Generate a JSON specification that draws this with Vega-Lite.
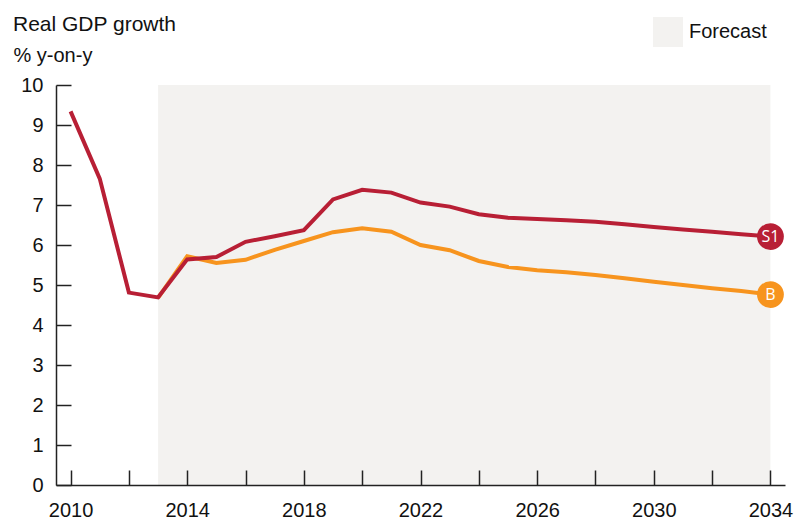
{
  "$schema": "https://vega.github.io/schema/vega-lite/v6.json",
  "width": 729,
  "height": 400,
  "autosize": {"type": "none"},
  "padding": {"left": 56, "top": 85, "right": 12, "bottom": 35},
  "background": "white",
  "config": {
    "view": {"stroke": null},
    "font": "Liberation Sans",
    "axis": {
      "domainColor": "#222222",
      "domainWidth": 1.5,
      "tickColor": "#222222",
      "tickWidth": 1.5,
      "tickSize": -15,
      "labelFont": "Liberation Sans",
      "labelFontSize": 20,
      "labelColor": "#111111",
      "labelOverlap": false,
      "grid": false,
      "zindex": 1
    }
  },
  "title": {
    "text": "Real GDP growth",
    "anchor": "start",
    "frame": "group",
    "dx": -43,
    "offset": -35,
    "baseline": "alphabetic",
    "fontSize": 21,
    "fontWeight": "normal",
    "color": "#111111"
  },
  "datasets": {
    "forecast": [{"start": 2013, "end": 2034, "label": "Forecast"}],
    "series": [
      {"year": 2013, "value": 4.68, "scenario": "B"},
      {"year": 2014, "value": 5.72, "scenario": "B"},
      {"year": 2015, "value": 5.55, "scenario": "B"},
      {"year": 2016, "value": 5.63, "scenario": "B"},
      {"year": 2017, "value": 5.88, "scenario": "B"},
      {"year": 2018, "value": 6.1, "scenario": "B"},
      {"year": 2019, "value": 6.32, "scenario": "B"},
      {"year": 2020, "value": 6.42, "scenario": "B"},
      {"year": 2021, "value": 6.33, "scenario": "B"},
      {"year": 2022, "value": 6.0, "scenario": "B"},
      {"year": 2023, "value": 5.87, "scenario": "B"},
      {"year": 2024, "value": 5.6, "scenario": "B"},
      {"year": 2025, "value": 5.45, "scenario": "B"},
      {"year": 2026, "value": 5.37, "scenario": "B"},
      {"year": 2027, "value": 5.32, "scenario": "B"},
      {"year": 2028, "value": 5.25, "scenario": "B"},
      {"year": 2029, "value": 5.17, "scenario": "B"},
      {"year": 2030, "value": 5.08, "scenario": "B"},
      {"year": 2031, "value": 5.0, "scenario": "B"},
      {"year": 2032, "value": 4.92, "scenario": "B"},
      {"year": 2033, "value": 4.85, "scenario": "B"},
      {"year": 2034, "value": 4.76, "scenario": "B"},
      {"year": 2010, "value": 9.34, "scenario": "S1"},
      {"year": 2011, "value": 7.66, "scenario": "S1"},
      {"year": 2012, "value": 4.81, "scenario": "S1"},
      {"year": 2013, "value": 4.69, "scenario": "S1"},
      {"year": 2014, "value": 5.64, "scenario": "S1"},
      {"year": 2015, "value": 5.7, "scenario": "S1"},
      {"year": 2016, "value": 6.08, "scenario": "S1"},
      {"year": 2017, "value": 6.22, "scenario": "S1"},
      {"year": 2018, "value": 6.37, "scenario": "S1"},
      {"year": 2019, "value": 7.14, "scenario": "S1"},
      {"year": 2020, "value": 7.38, "scenario": "S1"},
      {"year": 2021, "value": 7.31, "scenario": "S1"},
      {"year": 2022, "value": 7.06, "scenario": "S1"},
      {"year": 2023, "value": 6.96, "scenario": "S1"},
      {"year": 2024, "value": 6.77, "scenario": "S1"},
      {"year": 2025, "value": 6.68, "scenario": "S1"},
      {"year": 2026, "value": 6.65, "scenario": "S1"},
      {"year": 2027, "value": 6.62, "scenario": "S1"},
      {"year": 2028, "value": 6.58, "scenario": "S1"},
      {"year": 2029, "value": 6.52, "scenario": "S1"},
      {"year": 2030, "value": 6.45, "scenario": "S1"},
      {"year": 2031, "value": 6.39, "scenario": "S1"},
      {"year": 2032, "value": 6.33, "scenario": "S1"},
      {"year": 2033, "value": 6.27, "scenario": "S1"},
      {"year": 2034, "value": 6.21, "scenario": "S1"}
    ]
  },
  "layer": [
    {
      "data": {"name": "forecast"},
      "mark": {"type": "rect", "fillOpacity": 0.1},
      "encoding": {
        "x": {
          "field": "start",
          "type": "quantitative",
          "title": null,
          "scale": {"domain": [2009.5, 2034.5], "nice": false, "zero": false},
          "axis": {
            "tickCount": 13,
            "format": "d",
            "labelExpr": "datum.value % 4 == 2 ? datum.label : ''",
            "labelPadding": 30,
            "labelFlush": false,
            "zindex": 2
          }
        },
        "x2": {"field": "end"},
        "fill": {
          "field": "label",
          "type": "nominal",
          "scale": {"range": ["#877d69"]},
          "legend": {
            "orient": "none",
            "legendX": 597,
            "legendY": -68,
            "title": null,
            "symbolType": "square",
            "symbolSize": 900,
            "symbolStrokeWidth": 0,
            "symbolOpacity": 0.1,
            "labelFont": "Liberation Sans",
            "labelFontSize": 20,
            "labelColor": "#111111",
            "labelOffset": 6
          }
        }
      }
    },
    {
      "data": {"name": "series"},
      "mark": {"type": "line", "strokeWidth": 4},
      "encoding": {
        "x": {
          "field": "year",
          "type": "quantitative",
          "title": null,
          "axis": {
            "tickCount": 13,
            "format": "d",
            "labelExpr": "datum.value % 4 == 2 ? datum.label : ''",
            "labelPadding": 30,
            "labelFlush": false,
            "zindex": 2
          }
        },
        "y": {
          "field": "value",
          "type": "quantitative",
          "title": "% y-on-y",
          "scale": {"domain": [0, 10], "nice": false},
          "axis": {
            "values": [0, 1, 2, 3, 4, 5, 6, 7, 8, 9, 10],
            "labelPadding": 28,
            "zindex": 2,
            "titleAngle": 0,
            "titleAlign": "left",
            "titleBaseline": "alphabetic",
            "titleX": -43,
            "titleY": -24,
            "titleFont": "Liberation Sans",
            "titleFontSize": 20,
            "titleFontWeight": "normal",
            "titleColor": "#111111"
          }
        },
        "color": {
          "field": "scenario",
          "type": "nominal",
          "scale": {"domain": ["B", "S1"], "range": ["#f7941e", "#b81f35"]},
          "legend": null
        }
      }
    },
    {
      "data": {"name": "series"},
      "transform": [{"filter": "datum.year == 2034"}],
      "mark": {"type": "circle", "size": 720, "opacity": 1},
      "encoding": {
        "x": {
          "field": "year",
          "type": "quantitative",
          "title": null,
          "axis": {
            "tickCount": 13,
            "format": "d",
            "labelExpr": "datum.value % 4 == 2 ? datum.label : ''",
            "labelPadding": 30,
            "labelFlush": false,
            "zindex": 2
          }
        },
        "y": {
          "field": "value",
          "type": "quantitative",
          "title": "% y-on-y",
          "axis": {
            "values": [0, 1, 2, 3, 4, 5, 6, 7, 8, 9, 10],
            "labelPadding": 28,
            "zindex": 2,
            "titleAngle": 0,
            "titleAlign": "left",
            "titleBaseline": "alphabetic",
            "titleX": -43,
            "titleY": -24,
            "titleFont": "Liberation Sans",
            "titleFontSize": 20,
            "titleFontWeight": "normal",
            "titleColor": "#111111"
          }
        },
        "color": {"field": "scenario", "type": "nominal", "legend": null}
      }
    },
    {
      "data": {"name": "series"},
      "transform": [{"filter": "datum.year == 2034"}],
      "mark": {"type": "text", "color": "white", "fontSize": 16, "font": "Open Sans", "baseline": "middle", "align": "center"},
      "encoding": {
        "x": {
          "field": "year",
          "type": "quantitative",
          "title": null,
          "axis": {
            "tickCount": 13,
            "format": "d",
            "labelExpr": "datum.value % 4 == 2 ? datum.label : ''",
            "labelPadding": 30,
            "labelFlush": false,
            "zindex": 2
          }
        },
        "y": {
          "field": "value",
          "type": "quantitative",
          "title": "% y-on-y",
          "axis": {
            "values": [0, 1, 2, 3, 4, 5, 6, 7, 8, 9, 10],
            "labelPadding": 28,
            "zindex": 2,
            "titleAngle": 0,
            "titleAlign": "left",
            "titleBaseline": "alphabetic",
            "titleX": -43,
            "titleY": -24,
            "titleFont": "Liberation Sans",
            "titleFontSize": 20,
            "titleFontWeight": "normal",
            "titleColor": "#111111"
          }
        },
        "text": {"field": "scenario"}
      }
    }
  ]
}
